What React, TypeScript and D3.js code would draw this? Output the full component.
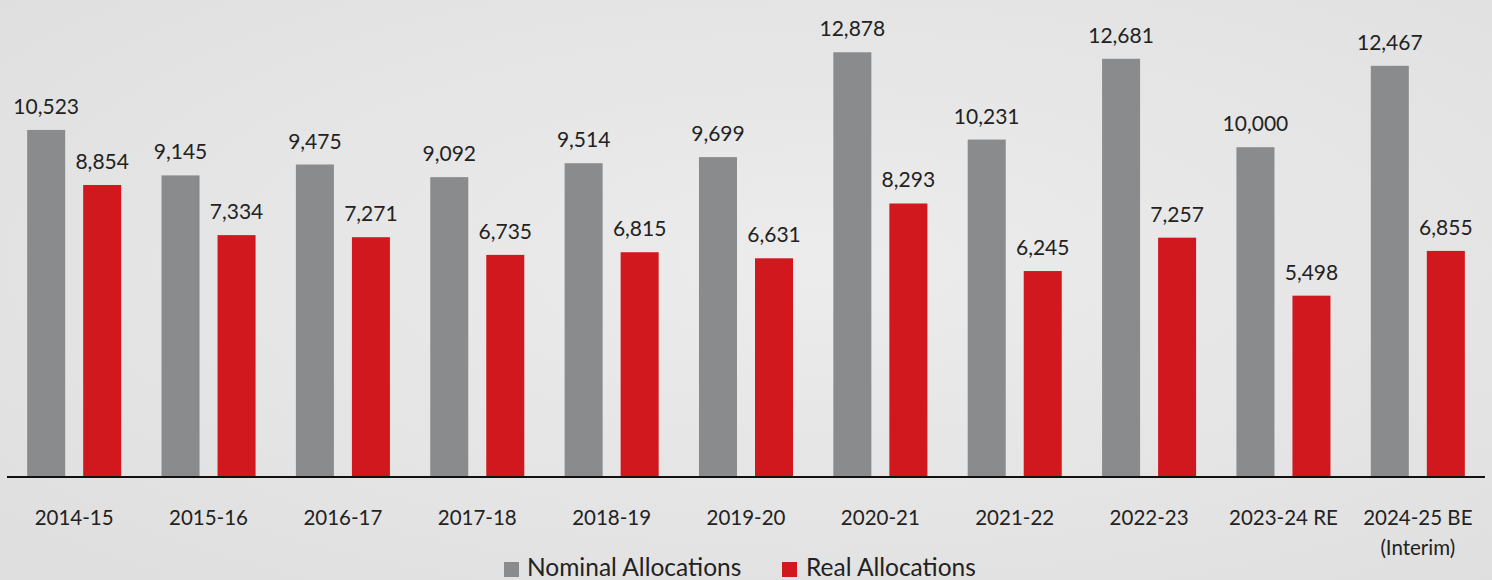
import React from "react";
import * as d3 from "d3";

const categories = ["2014-15","2015-16","2016-17","2017-18","2018-19","2019-20","2020-21","2021-22","2022-23","2023-24 RE","2024-25 BE|(Interim)"];
const nominal = [10523, 9145, 9475, 9092, 9514, 9699, 12878, 10231, 12681, 10000, 12467];
const real = [8854, 7334, 7271, 6735, 6815, 6631, 8293, 6245, 7257, 5498, 6855];
const seriesNames = ["Nominal Allocations", "Real Allocations"];
const seriesColors = ["#8a8b8d", "#d0181e"];

const W = 1492, H = 580;
const FONT = "Lato, 'Open Sans', sans-serif";

export default function App() {
  const x0 = d3.scaleBand().domain(categories).range([7, 1485]).padding(0);
  const x1 = d3.scaleBand().domain(seriesNames).range([0, x0.bandwidth()]).paddingInner(0.3214).paddingOuter(0.36);
  const y = d3.scaleLinear().domain([0, 14463]).range([477, 0]);
  const fmt = d3.format(",");
  const data = [nominal, real];

  return (
    <svg width={W} height={H} style={{ position: "absolute", left: 0, top: 0, display: "block" }} fontFamily={FONT}>
      <defs>
        <radialGradient id="bg" cx="0.55" cy="0.45" r="0.8">
          <stop offset="0" stopColor="#ececec" />
          <stop offset="1" stopColor="#dedede" />
        </radialGradient>
      </defs>
      <rect x={0} y={0} width={W} height={H} fill="url(#bg)" />
      {categories.map((c, i) => (
        <g key={c} transform={`translate(${x0(c)},0)`}>
          {seriesNames.map((s, j) => {
            const v = data[j][i];
            const bx = x1(s)!;
            const bw = x1.bandwidth();
            return (
              <g key={s}>
                <rect x={bx} y={y(v)} width={bw} height={y(0) - y(v)} fill={seriesColors[j]} />
                <text x={bx + bw / 2} y={y(v) - 16} textAnchor="middle" fontSize={21} fill="#222">{fmt(v)}</text>
              </g>
            );
          })}
          {c.split("|").map((line, k) => (
            <text key={k} x={x0.bandwidth() / 2} y={525 + k * 30} textAnchor="middle" fontSize={20.5} fill="#222">{line}</text>
          ))}
        </g>
      ))}
      <line x1={7} x2={1485} y1={y(0)} y2={y(0)} stroke="#111" strokeWidth={2} />
      <g>
        <rect x={504} y={562} width={15} height={15} fill={seriesColors[0]} />
        <text x={527} y={576} fontSize={24.5} fill="#222">{seriesNames[0]}</text>
        <rect x={782} y={562} width={15} height={15} fill={seriesColors[1]} />
        <text x={806} y={576} fontSize={24.5} fill="#222">{seriesNames[1]}</text>
      </g>
    </svg>
  );
}
